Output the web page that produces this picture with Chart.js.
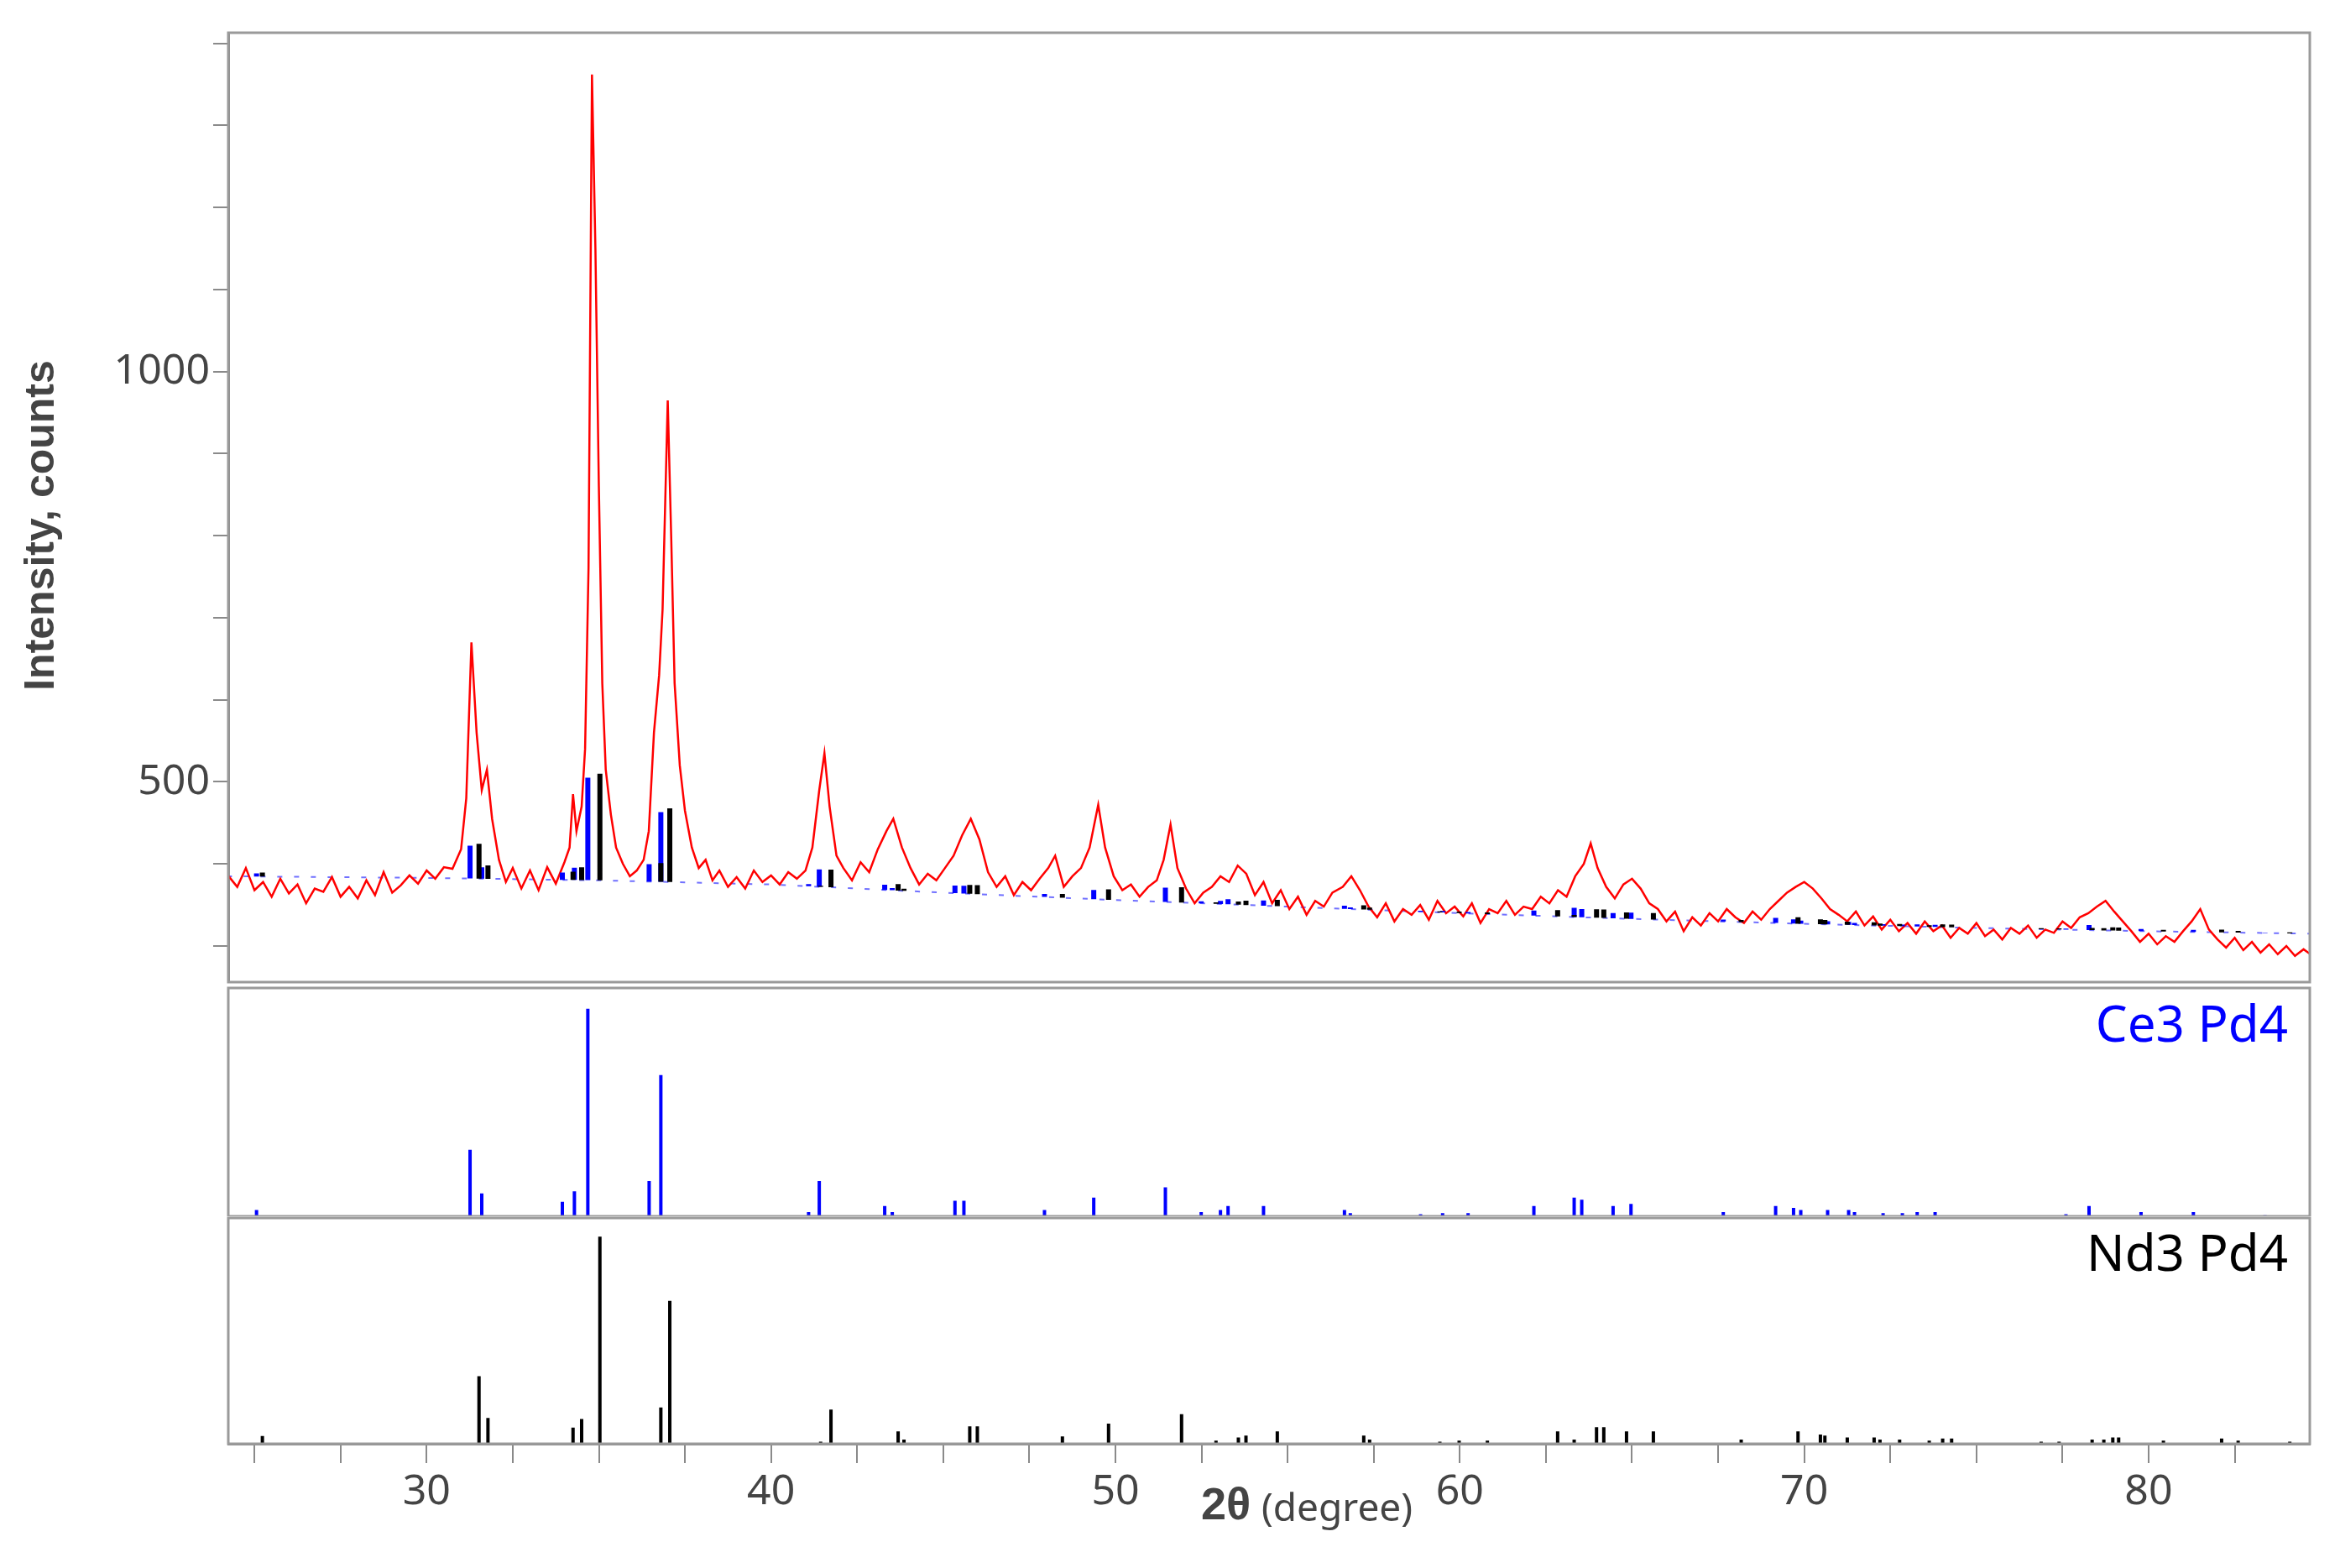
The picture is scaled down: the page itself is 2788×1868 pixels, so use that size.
<!DOCTYPE html>
<html>
<head>
<meta charset="utf-8">
<script src="https://cdn.jsdelivr.net/npm/chart.js@4.4.1/dist/chart.umd.min.js"></script>
<style>
  body { margin: 0; background: #fff; }
  #wrap { position: relative; width: 2788px; height: 1868px; }
  .panel { position: absolute; left: 0; width: 2788px; }
</style>
</head>
<body>
<div id="wrap">
  <div class="panel" style="top:0;height:1172px"><canvas id="topChart"></canvas></div>
  <div class="panel" style="top:1175px;height:274px"><canvas id="ceChart"></canvas></div>
  <div class="panel" style="top:1449px;height:419px"><canvas id="ndChart"></canvas></div>
</div>
<script>
// 测量图谱 (2θ, counts)
const pattern = [
  [24.25,385],[24.5,372],[24.75,395],[25,368],[25.25,378],[25.5,360],[25.75,382],[26,364],[26.25,375],[26.5,352],
  [26.75,370],[27,366],[27.25,384],[27.5,360],[27.75,372],[28,358],[28.25,380],[28.5,362],[28.75,390],[29,365],
  [29.25,374],[29.5,386],[29.75,376],[30,392],[30.25,382],[30.5,396],[30.75,394],[31,418],[31.15,480],[31.3,670],
  [31.45,560],[31.6,490],[31.75,515],[31.9,455],[32.1,405],[32.3,378],[32.5,395],[32.75,370],[33,392],[33.25,368],
  [33.5,396],[33.75,376],[34,402],[34.15,420],[34.25,485],[34.35,440],[34.5,470],[34.6,540],[34.7,760],[34.8,1362],
  [34.9,1150],[35.0,860],[35.1,620],[35.2,515],[35.35,460],[35.5,420],[35.7,400],[35.9,385],[36.1,392],[36.3,405],
  [36.45,440],[36.6,560],[36.75,630],[36.85,710],[37.0,965],[37.1,800],[37.2,620],[37.35,520],[37.5,465],[37.7,420],
  [37.9,395],[38.1,405],[38.3,380],[38.5,392],[38.75,372],[39,384],[39.25,370],[39.5,392],[39.75,378],[40,386],
  [40.25,375],[40.5,390],[40.75,382],[41,392],[41.2,420],[41.4,490],[41.55,535],[41.7,470],[41.9,410],[42.1,395],
  [42.35,380],[42.6,402],[42.85,390],[43.1,418],[43.35,440],[43.55,455],[43.8,420],[44.05,395],[44.3,375],[44.55,388],
  [44.8,380],[45.05,395],[45.3,410],[45.55,435],[45.8,455],[46.05,430],[46.3,390],[46.55,372],[46.8,385],[47.05,362],
  [47.3,378],[47.55,368],[47.8,382],[48.05,395],[48.25,410],[48.5,372],[48.75,385],[49.0,395],[49.25,420],[49.5,472],
  [49.7,420],[49.95,385],[50.2,368],[50.45,375],[50.7,360],[50.95,372],[51.2,380],[51.4,405],[51.6,448],[51.8,395],
  [52.05,370],[52.3,352],[52.55,365],[52.8,372],[53.05,385],[53.3,378],[53.55,398],[53.8,388],[54.05,362],[54.3,378],
  [54.55,352],[54.8,368],[55.05,345],[55.3,360],[55.55,338],[55.8,355],[56.05,348],[56.3,365],[56.6,372],[56.85,385],
  [57.1,368],[57.35,348],[57.6,335],[57.85,352],[58.1,330],[58.35,345],[58.6,338],[58.85,350],[59.1,332],[59.35,355],
  [59.6,340],[59.85,348],[60.1,336],[60.35,352],[60.6,328],[60.85,345],[61.1,340],[61.35,355],[61.6,338],[61.85,348],
  [62.1,345],[62.35,360],[62.6,352],[62.85,368],[63.1,360],[63.35,385],[63.6,400],[63.8,425],[64.0,395],[64.25,372],
  [64.5,358],[64.75,375],[65.0,382],[65.25,370],[65.5,352],[65.75,345],[66.0,330],[66.25,342],[66.5,318],[66.75,335],
  [67.0,325],[67.25,340],[67.5,330],[67.75,345],[68.0,335],[68.25,328],[68.5,342],[68.75,332],[69.0,345],[69.25,355],
  [69.5,365],[69.75,372],[70.0,378],[70.25,370],[70.5,358],[70.75,345],[71.0,338],[71.25,330],[71.5,342],[71.75,325],
  [72.0,336],[72.25,320],[72.5,332],[72.75,318],[73.0,328],[73.25,315],[73.5,330],[73.75,318],[74.0,325],[74.25,310],
  [74.5,322],[74.75,315],[75.0,328],[75.25,312],[75.5,320],[75.75,308],[76.0,322],[76.25,315],[76.5,325],[76.75,310],
  [77.0,320],[77.25,316],[77.5,330],[77.75,322],[78.0,335],[78.25,340],[78.5,348],[78.75,355],[79.0,342],[79.25,330],
  [79.5,318],[79.75,305],[80.0,315],[80.25,302],[80.5,312],[80.75,305],[81.0,318],[81.25,330],[81.5,345],[81.75,320],
  [82.0,308],[82.25,298],[82.5,310],[82.75,295],[83.0,305],[83.25,292],[83.5,302],[83.75,290],[84.0,300],[84.25,288],
  [84.5,296],[84.7,290]
];

// 背景线
const background = [[24.2,385],[30,383],[35,380],[40,375],[45,365],[50,356],[55,348],[60,340],[65,333],[70,327],[75,322],[80,318],[84.7,315]];

// Ce3 Pd4 参考峰
const cePos = [25.06,31.26,31.6,33.94,34.29,34.68,36.46,36.8,41.09,41.4,43.3,43.52,45.34,45.6,47.94,49.37,51.45,52.49,53.05,53.27,
  54.3,56.65,56.82,58.86,59.5,60.24,62.15,63.32,63.54,64.45,64.97,67.65,69.17,69.69,69.9,70.68,71.29,71.46,72.29,72.85,
  73.28,73.8,77.6,78.27,79.78,81.3,83.38];
const ceInt = [3,32,11,7,12,100,17,68,2,17,5,2,7.5,7.5,3,9,14,2,3,5,
  5,3,1.5,1,1.5,1.5,5,9,8,5,6,2,5,4,3,3,3,2,1.5,1.5,
  2,2,1,5,2,2,0.5];

// Nd3 Pd4 参考峰
const ndPos = [25.23,31.52,31.78,34.25,34.5,35.03,36.8,37.06,41.44,41.74,43.69,43.86,45.77,45.99,48.46,49.8,51.92,52.92,53.57,53.79,
  54.7,57.21,57.38,59.42,59.98,60.8,62.84,63.32,63.97,64.18,64.84,65.62,68.17,69.82,70.47,70.6,71.25,72.03,72.2,72.77,
  73.63,74.02,74.28,76.88,77.4,78.36,78.7,78.96,79.13,80.43,82.12,82.6,84.1];
const ndInt = [3.7,32.6,12.5,7.8,12,100,17.5,69,1,16.5,6,2,8.4,8.4,3.5,9.7,14.3,1.5,3,4,
  6,4,2,1,1.5,1.5,6,2,8,8,6,6,2,6,4.5,4,3,3,2,2,
  1.5,2.5,2.5,1,1,2,2,3,3,1.5,2.5,1.5,1];

const xTicks = [25, 27.5, 30, 32.5, 35, 37.5, 40, 42.5, 45, 47.5, 50, 52.5, 55, 57.5, 60, 62.5, 65, 67.5, 70, 72.5, 75, 77.5, 80, 82.5];
const yTicks = [300, 400, 500, 600, 700, 800, 900, 1000, 1100, 1200, 1300, 1400];
const yLabels = [500, 1000];

const X_MIN = 24.24, X_MAX = 84.68;
const PLOT_LEFT = 272, PLOT_RIGHT_PAD = 36;

function bgAt(x) {
    for (let i = 1; i < background.length; i++) {
        const a = background[i - 1], b = background[i];
        if (x <= b[0]) return a[1] + (b[1] - a[1]) * (x - a[0]) / (b[0] - a[0]);
    }
    return background[background.length - 1][1];
}

// 竖线: (x,base)->(x,top), 用 null 分隔
function sticks(pos, inten, baseFn, scale) {
    const out = [];
    pos.forEach((p, i) => {
        const b = baseFn(p);
        out.push({x: p, y: b}, {x: p, y: b + inten[i] * scale}, {x: p, y: null});
    });
    return out;
}

const frame = {
    id: 'frame',
    afterDraw(chart) {
        const a = chart.chartArea, ctx = chart.ctx;
        ctx.save();
        ctx.strokeStyle = '#9a9a9a';
        ctx.lineWidth = 3;
        ctx.strokeRect(a.left, a.top, a.right - a.left, a.bottom - a.top);
        const t = chart.options.plugins.frame;
        if (t && t.label) {
            ctx.fillStyle = t.color;
            ctx.font = '60px "Noto Sans", sans-serif';
            ctx.textAlign = 'right';
            ctx.textBaseline = 'middle';
            ctx.fillText(t.label, a.right - 26, a.top + t.dy);
        }
        ctx.restore();
    }
};

function xScale(show) {
    return {
        type: 'linear', min: X_MIN, max: X_MAX, display: show,
        afterBuildTicks: s => { s.ticks = xTicks.map(v => ({value: v})); },
        grid: { drawOnChartArea: false, color: '#8a8a8a', tickLength: 23, lineWidth: 2 },
        border: { color: '#8a8a8a', width: 3 },
        ticks: { color: '#444', font: { size: 50, family: 'Noto Sans' }, padding: 5,
                 maxRotation: 0, autoSkip: false,
                 callback: v => (v % 10 === 0 ? v : '') }
    };
}

function lineDs(data, color, width) {
    return { data: data, borderColor: color, borderWidth: width, pointRadius: 0, spanGaps: false, tension: 0 };
}

Chart.defaults.animation = false;
Chart.defaults.responsive = true;
Chart.defaults.maintainAspectRatio = false;
Chart.defaults.plugins.legend.display = false;
Chart.defaults.plugins.tooltip.enabled = false;

// 主图
new Chart(document.getElementById('topChart'), {
    type: 'line',
    data: {
        datasets: [
            Object.assign(lineDs(background.map(p => ({x: p[0], y: p[1]})), 'rgba(16,16,255,0.6)', 2), { borderDash: [6, 14], order: 3 }),
            Object.assign(lineDs(pattern.map(p => ({x: p[0], y: p[1]})), '#ff0000', 2.5), { order: 2 }),
            Object.assign(lineDs(sticks(cePos, ceInt, bgAt, 1.25), '#0000ff', 6), { order: 1 }),
            Object.assign(lineDs(sticks(ndPos, ndInt, bgAt, 1.3), '#000000', 6), { order: 0 })
        ]
    },
    options: {
        layout: { padding: { top: 39, right: PLOT_RIGHT_PAD, bottom: 2, left: 0 } },
        scales: {
            x: xScale(false),
            y: {
                min: 256, max: 1413,
                afterFit: s => { s.width = PLOT_LEFT; s.paddingTop = 0; s.paddingBottom = 0; },
                afterBuildTicks: s => { s.ticks = yTicks.map(v => ({value: v})); },
                grid: { drawOnChartArea: false, color: '#8a8a8a', tickLength: 18, lineWidth: 2 },
                border: { color: '#8a8a8a', width: 3 },
                ticks: { color: '#444', font: { size: 50, family: 'Noto Sans' }, padding: 4,
                         callback: v => (yLabels.includes(v) ? v : '') }
            }
        },
        plugins: { frame: {} }
    },
    plugins: [frame, {
        id: 'ytitle',
        afterDraw(chart) {
            const ctx = chart.ctx;
            ctx.save();
            ctx.translate(50, 626);
            ctx.rotate(-Math.PI / 2);
            ctx.fillStyle = '#444';
            ctx.font = 'bold 50px "Liberation Sans", Arial, sans-serif';
            ctx.textAlign = 'center';
            ctx.textBaseline = 'middle';
            ctx.fillText('Intensity, counts', 0, 0);
            ctx.restore();
        }
    }]
});

// Ce3 Pd4
new Chart(document.getElementById('ceChart'), {
    type: 'line',
    data: { datasets: [lineDs(sticks(cePos, ceInt, () => 0, 1), '#0000ff', 4)] },
    options: {
        layout: { padding: { top: 2, right: PLOT_RIGHT_PAD, bottom: 0, left: PLOT_LEFT } },
        scales: { x: xScale(false), y: { min: 0, max: 110, display: false } },
        plugins: { frame: { label: 'Ce3 Pd4', color: '#0000ff', dy: 47 } }
    },
    plugins: [frame]
});

// Nd3 Pd4
new Chart(document.getElementById('ndChart'), {
    type: 'line',
    data: { datasets: [lineDs(sticks(ndPos, ndInt, () => 0, 1), '#000000', 4)] },
    options: {
        layout: { padding: { top: 2, right: PLOT_RIGHT_PAD, bottom: 55, left: PLOT_LEFT } },
        scales: {
            x: xScale(true),
            y: { min: 0, max: 109, display: false }
        },
        plugins: { frame: { label: 'Nd3 Pd4', color: '#000000', dy: 46 } }
    },
    plugins: [frame, {
        id: 'xtitle',
        afterDraw(chart) {
            const ctx = chart.ctx;
            ctx.save();
            ctx.fillStyle = '#444';
            ctx.textBaseline = 'middle';
            ctx.font = 'bold 54px "Liberation Sans", Arial, sans-serif';
            ctx.fillText('2θ', 1431, 346);
            ctx.font = '46px "Noto Sans", sans-serif';
            ctx.fillText('(degree)', 1503, 350);
            ctx.restore();
        }
    }]
});
</script>
</body>
</html>
